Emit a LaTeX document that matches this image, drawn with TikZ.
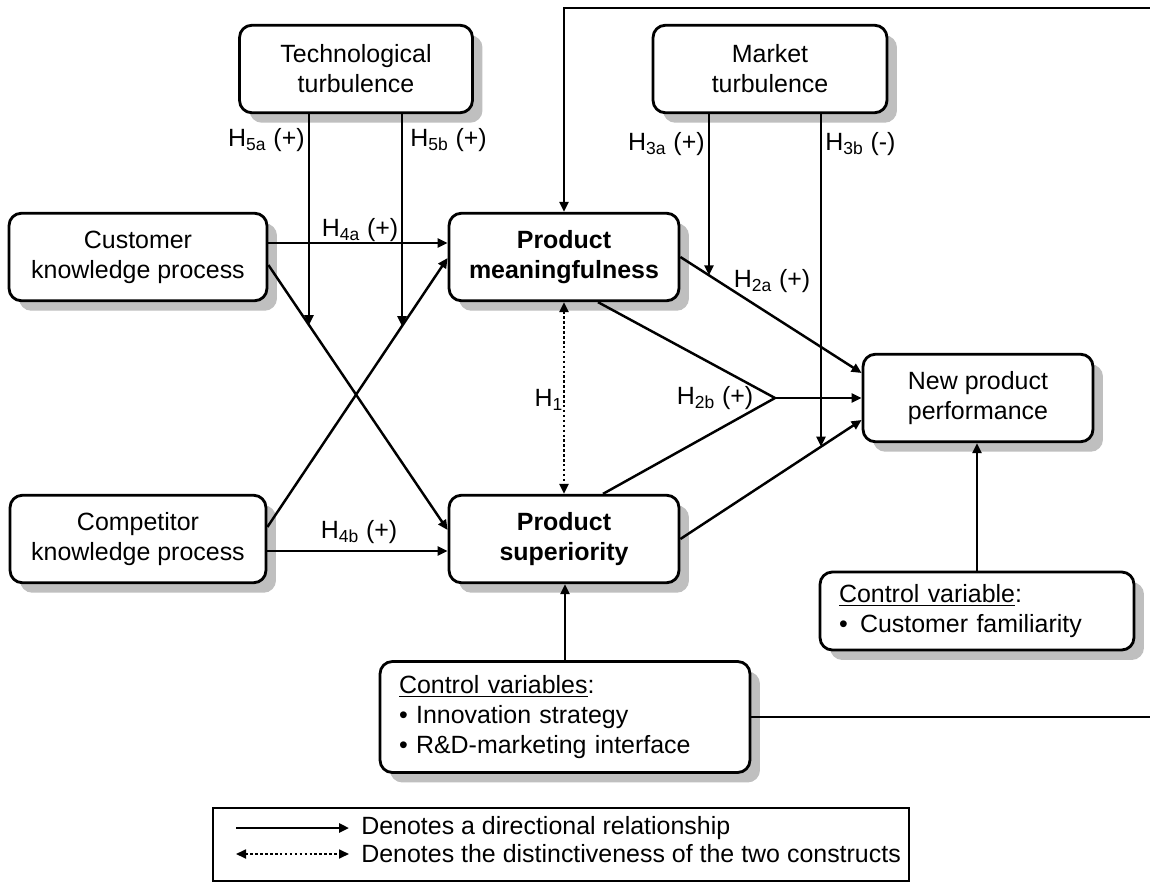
\documentclass[tikz,border=0pt]{standalone}
\usepackage{fontspec}
\setmainfont{Liberation Sans}
\usetikzlibrary{arrows.meta,shadows,intersections}

\newcommand{\figfont}{\fontsize{14.2}{17}\selectfont}
\newcommand{\hyp}[2]{H\textsubscript{#1} (#2)}

\begin{document}
\begin{tikzpicture}[
    x=0.02cm, y=-0.02cm,
    font=\figfont,
    factor/.style={draw, line width=1.6pt, rounded corners=7pt, fill=white,
        drop shadow={shadow xshift=0.2cm, shadow yshift=-0.2cm, fill=black!25, opacity=1},
        align=center, inner sep=0pt, minimum height=1.75cm},
    ctrl/.style={factor, align=left, inner xsep=0.38cm},
    hlabel/.style={inner sep=0pt},
    rel/.style={line width=1.4pt, -{Triangle[length=0.2cm,width=0.18cm]}},
    dist/.style={line width=1.4pt, dash pattern=on 1.4pt off 1.4pt,
        {Triangle[length=0.2cm,width=0.18cm]}-{Triangle[length=0.2cm,width=0.18cm]}}
]
\useasboundingbox (0,0) rectangle (1150,882);

% Moderators
\node[factor, minimum width=4.66cm] (tt) at (356,69) {Technological\\turbulence};
\node[factor, minimum width=4.68cm] (mt) at (770,69) {Market\\turbulence};
% Antecedents
\node[factor, minimum width=5.16cm] (ckp) at (138,257) {Customer\\knowledge process};
\node[factor, minimum width=5.12cm] (comp) at (138,539) {Competitor\\knowledge process};
% Product advantage
\node[factor, minimum width=4.6cm, font=\figfont\bfseries] (pm) at (564,257) {Product\\meaningfulness};
\node[factor, minimum width=4.6cm, font=\figfont\bfseries] (ps) at (564,539) {Product\\superiority};
% Outcome
\node[factor, minimum width=4.6cm] (npp) at (978,398) {New product\\performance};
% Controls
\node[ctrl, text width=5.52cm, minimum height=1.56cm] (cv1) at (977,611)
    {\underline{Control variable}:\\•\hspace{7pt}Customer familiarity};
\node[ctrl, text width=6.64cm, minimum height=2.22cm] (cv2) at (565,717)
    {\underline{Control variables}:\\• Innovation strategy\\• R\&D-marketing interface};

% Main effects
\draw[rel] (ckp.east |- 0,243) -- (pm.west |- 0,243);
\draw[rel] (comp.east |- 0,551) -- (ps.west |- 0,551);
\draw[rel, name path=ckpps] (ckp.east |- 0,265) -- (ps.west |- 0,530);
\draw[rel, name path=comppm] (comp.east |- 0,527) -- (pm.west |- 0,258);
\draw[rel, name path=pmnpp] (pm.east) -- (npp.west |- 0,373);
\draw[rel, name path=psnpp] (ps.east) -- (npp.west |- 0,420);
\coordinate (join) at (775,398);
\draw[line width=1.4pt] (pm.south -| 598,0) -- (join) -- (ps.north -| 603,0);
\draw[rel] (join) -- (npp.west);
\draw[dist] (pm.south) -- (ps.north);

% Moderating effects
\path[name path=v5a] (tt.south -| 309,0) -- ++(0,400);
\path[name path=v5b] (tt.south -| 402,0) -- ++(0,400);
\path[name path=v3a] (mt.south -| 709,0) -- ++(0,400);
\path[name path=v3b] (mt.south -| 821,0) -- ++(0,500);
\draw[rel, name intersections={of=v5a and ckpps, by=x5a}] (tt.south -| 309,0) -- (x5a);
\draw[rel, name intersections={of=v5b and comppm, by=x5b}] (tt.south -| 402,0) -- (x5b);
\draw[rel, name intersections={of=v3a and pmnpp, by=x3a}] (mt.south -| 709,0) -- (x3a);
\draw[rel, name intersections={of=v3b and psnpp, by=x3b}] (mt.south -| 821,0) -- (x3b);

% Controls
\draw[rel] (cv2.north) -- (cv2.north |- ps.south);
\draw[rel] (cv1.north) -- (cv1.north |- npp.south);
\draw[rel] (cv2.east) -| (1160,8) -| (pm.north);

% Hypothesis labels
\node[hlabel, anchor=east] (h5a) at (305,140) {\hyp{5a}{+}};
\node[hlabel, anchor=west] (h5b) at (410,140) {\hyp{5b}{+}};
\node[hlabel, anchor=east] (h3a) at (705,144) {\hyp{3a}{+}};
\node[hlabel, anchor=west] (h3b) at (825,144) {\hyp{3b}{-}};
\node[hlabel] (h4a) at (360,230) {\hyp{4a}{+}};
\node[hlabel] (h4b) at (359,532) {\hyp{4b}{+}};
\node[hlabel] (h2a) at (772,281) {\hyp{2a}{+}};
\node[hlabel] (h2b) at (715,398) {\hyp{2b}{+}};
\node[hlabel] (h1) at (549,400) {H\textsubscript{1}};

% Legend
\coordinate (la1) at (236,828);
\coordinate (lb1) at (349,828);
\coordinate (la2) at (236,854);
\coordinate (lb2) at (349,854);
\draw[rel] (la1) -- (lb1);
\draw[dist, line width=1pt] (la2) -- (lb2);
\node[hlabel, anchor=west] (leg1) at (361,828) {Denotes a directional relationship};
\node[hlabel, anchor=west] (leg2) at (361,854) {Denotes the distinctiveness of the two constructs};
\coordinate (legr) at ([xshift=0.16cm]leg2.east);
\draw[line width=1pt] (213,808) rectangle (legr |- 0,881);
\end{tikzpicture}
\end{document}
